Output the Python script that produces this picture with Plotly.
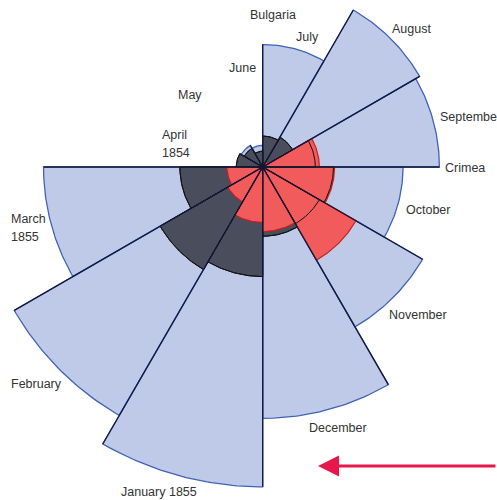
import numpy as np
import plotly.graph_objects as go

# Nightingale, April 1854 - March 1855: annual mortality rate per 1000
months = ["April 1854", "May", "June", "July", "August", "September",
          "October", "November", "December", "January 1855", "February", "March 1855"]
disease = [1.4, 6.2, 4.7, 150.0, 328.5, 312.2, 197.0, 340.6, 631.5, 1022.8, 822.8, 480.3]
wounds = [0.0, 0.0, 0.0, 0.0, 0.4, 32.1, 51.7, 115.8, 41.7, 30.7, 16.3, 12.8]
other = [7.0, 4.6, 2.5, 9.6, 11.9, 27.7, 50.1, 42.8, 48.0, 120.0, 140.1, 68.6]

W, H = 497, 500
CX, CY = 262.7, 167.0   # pole position in px
SCALE = 10.0            # px per sqrt(rate)
STEP = 30


def wedges(values):
    """Polygons for each month, area proportional to the value."""
    xs, ys = [], []
    for i, v in enumerate(values):
        r = np.sqrt(v)
        if r == 0:
            continue
        t = np.radians(np.linspace(180 - STEP * i, 180 - STEP * (i + 1), 40))
        xs += [0, *(r * np.cos(t)), 0, None]
        ys += [0, *(r * np.sin(t)), 0, None]
    return xs, ys


fig = go.Figure()

for values, fill, line, width in [
    (disease, "#bfcae8", "#3f62b6", 1.3),
    (other, "#4a4d5b", "#111111", 1),
    (wounds, "#f15b5b", "#c81e1e", 1.2),
]:
    x, y = wedges(values)
    fig.add_trace(go.Scatter(x=x, y=y, mode="lines", fill="toself",
                             fillcolor=fill, line=dict(color=line, width=width),
                             hoverinfo="skip", showlegend=False))

# outlines of the "other" wedges show through the red ones
x, y = wedges(other)
fig.add_trace(go.Scatter(x=x, y=y, mode="lines", line=dict(color="#111111", width=1),
                         hoverinfo="skip", showlegend=False))

# dark radial edges between months
rx, ry = [], []
n = len(months)
for k in range(n):
    r = max(np.sqrt(s[j]) for s in (disease, wounds, other) for j in (k - 1, k))
    a = np.radians(180 - STEP * k)
    rx += [0, r * np.cos(a), None]
    ry += [0, r * np.sin(a), None]
fig.add_trace(go.Scatter(x=rx, y=ry, mode="lines", line=dict(color="#12183a", width=1.3),
                         hoverinfo="skip", showlegend=False))

# month labels (px position, anchor)
label_pos = [
    [("April", 160, 135, "left"), ("1854", 160, 153, "left")],
    [("May", 190, 95, "center")],
    [("June", 242, 68, "center")],
    [("July", 307, 37, "center")],
    [("August", 411, 29, "center")],
    [("September", 438, 117, "left")],
    [("October", 428, 210, "center")],
    [("November", 418, 315, "center")],
    [("December", 338, 428, "center")],
    [("January 1855", 159, 492, "center")],
    [("February", 36, 384, "center")],
    [("March", 9, 219, "left"), ("1855", 9, 237, "left")],
]
extra = [("Bulgaria", 273, 15, "center"), ("Crimea", 443, 168, "left")]

for text, px, py, anchor in [p for parts in label_pos for p in parts] + extra:
    fig.add_annotation(x=px / W, y=1 - py / H, xref="paper", yref="paper", text=text,
                       showarrow=False, xanchor=anchor, yanchor="middle",
                       font=dict(family="Liberation Sans, Arial", size=12.5, color="#333333"))

# direction arrow
fig.add_annotation(x=318 / W, y=1 - 466 / H, xref="paper", yref="paper",
                   ax=W - 318, ay=0, axref="pixel", ayref="pixel",
                   text="", showarrow=True, arrowhead=2, arrowsize=1.4,
                   arrowwidth=3, arrowcolor="#e8174b")

fig.update_layout(
    width=W,
    height=H,
    margin=dict(l=0, r=0, t=0, b=0),
    plot_bgcolor="white",
    paper_bgcolor="white",
    hovermode=False,
)
fig.update_xaxes(range=[-CX / SCALE, (W - CX) / SCALE], visible=False, fixedrange=True)
fig.update_yaxes(range=[(CY - H) / SCALE, CY / SCALE], visible=False, fixedrange=True)

fig.write_html("out.html", config={"displayModeBar": False},
               post_script="document.body.style.margin = '0';")
